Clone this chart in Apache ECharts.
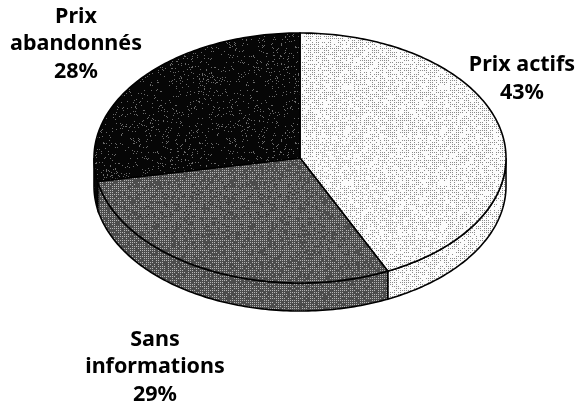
<!DOCTYPE html>
<html>
<head>
<meta charset="utf-8">
<style>
  html, body { margin: 0; padding: 0; background: #fff; }
  #main { width: 579px; height: 406px; }
</style>
<script src="https://cdn.jsdelivr.net/npm/echarts@6/dist/echarts.min.js"></script>
</head>
<body>
<div id="main"></div>
<script>
var categories = ['Prix actifs', 'Sans\ninformations', 'Prix\nabandonnés'];
var values = [43, 29, 28];

// layout of the tilted pie
var cx = 300, cy = 158, rx = 206, ry = 125, depth = 28;
var labelAt = [[522, 79], [155, 367], [76, 44]];

// printed screen look: base colour, dot colour, dot share, dot grid step
function screenTone(base, dot, share, step) {
  var size = 96;
  var c = document.createElement('canvas');
  c.width = c.height = size;
  var ctx = c.getContext('2d');
  var seed = 12345;
  for (var y = 0; y < size; y++) {
    for (var x = 0; x < size; x++) {
      seed = (seed * 1103515 + 12345) % 2147483648;
      var n = ((seed >> 8) % 1000) / 1000;
      var onGrid = x % step === 0 && y % step === 0;
      ctx.fillStyle = onGrid && n < share ? dot : base;
      ctx.fillRect(x, y, 1, 1);
    }
  }
  return { image: c, repeat: 'repeat' };
}
var fills = [
  screenTone('#fcfcfc', '#8c8c8c', 0.62, 2),
  screenTone('#4c4c4c', '#b4b4b4', 0.75, 2),
  screenTone('#060606', '#6a6a6a', 0.06, 1)
];

function pt(deg, dy) {
  var a = deg * Math.PI / 180;
  return [cx + rx * Math.sin(a), cy - ry * Math.cos(a) + (dy || 0)];
}
function arc(from, to, dy) {
  var pts = [];
  var n = Math.max(2, Math.ceil(Math.abs(to - from)));
  for (var i = 0; i <= n; i++) pts.push(pt(from + (to - from) * i / n, dy));
  return pts;
}

var total = values.reduce(function (a, b) { return a + b; }, 0);
var sliceData = [];
var acc = 0;
values.forEach(function (v, i) {
  sliceData.push([acc / total * 360, (acc + v) / total * 360, i]);
  acc += v;
});

var option = {
  backgroundColor: '#fff',
  animation: false,
  series: [{
    type: 'custom',
    coordinateSystem: 'none',
    data: sliceData,
    renderItem: function (params, api) {
      var start = api.value(0), end = api.value(1), i = api.value(2);
      var children = [];
      // front wall, only the part facing the viewer
      var a = Math.max(start, 90), b = Math.min(end, 270);
      if (b > a) {
        children.push({
          type: 'polygon',
          shape: { points: arc(a, b, 0).concat(arc(b, a, depth)) },
          style: { fill: fills[i], stroke: '#000', lineWidth: 1.6 }
        });
      }
      // top face
      children.push({
        type: 'polygon',
        shape: { points: [[cx, cy]].concat(arc(start, end, 0)) },
        style: { fill: fills[i], stroke: '#000', lineWidth: 1.6 }
      });
      children.push({
        type: 'text',
        style: {
          text: categories[i] + '\n' + values[i] + '%',
          x: labelAt[i][0],
          y: labelAt[i][1],
          align: 'center',
          verticalAlign: 'middle',
          fontFamily: 'Noto Sans',
          fontWeight: 'bold',
          fontSize: 21.5,
          lineHeight: 27.5,
          fill: '#000'
        }
      });
      return { type: 'group', children: children };
    }
  }]
};

var myChart = echarts.init(document.getElementById('main'), null, { renderer: 'canvas' });
myChart.setOption(option);
</script>
</body>
</html>
